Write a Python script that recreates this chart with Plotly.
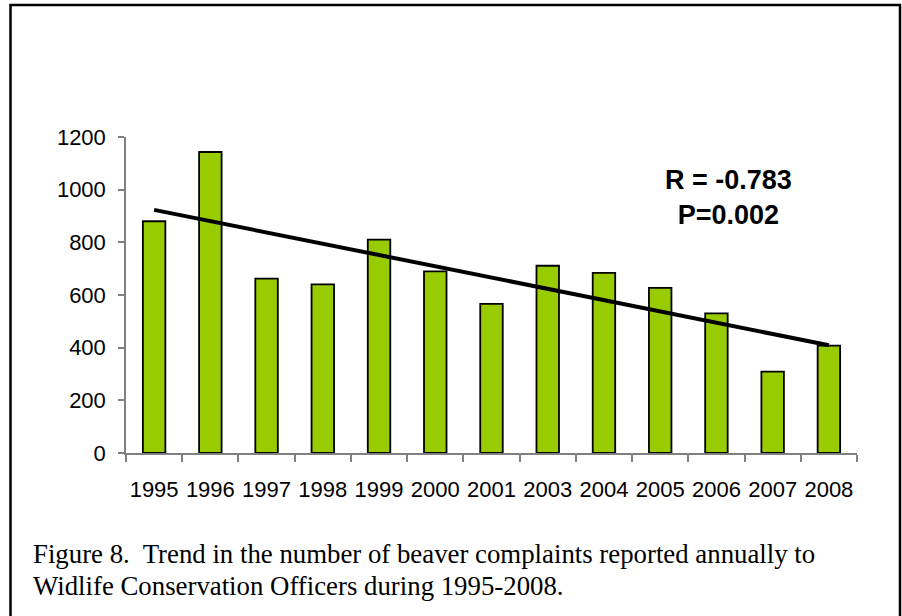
import numpy as np
import plotly.graph_objects as go

years = ["1995", "1996", "1997", "1998", "1999", "2000", "2001",
         "2003", "2004", "2005", "2006", "2007", "2008"]
complaints = [880, 1143, 662, 640, 810, 690, 566, 711, 684, 627, 530, 309, 408]
y_ticks = [0, 200, 400, 600, 800, 1000, 1200]
stats_text = "R = -0.783<br>P=0.002"
caption_line1 = "Figure 8.  Trend in the number of beaver complaints reported annually to"
caption_line2 = "Widlife Conservation Officers during 1995-2008."

# linear trendline (least squares), as in the spreadsheet chart
idx = np.arange(len(years))
slope, intercept = np.polyfit(idx, complaints, 1)
trend_y = [intercept + slope * idx[0], intercept + slope * idx[-1]]

W, H = 902, 616
L, R, T, B = 126, 45, 137, 163
pw, ph = W - L - R, H - T - B


def px_x(p):
    return (p - L) / pw


def px_y(p):
    return (H - B - p) / ph


fig = go.Figure()
fig.add_trace(go.Bar(
    x=years, y=complaints,
    marker=dict(color="#99CC00", line=dict(color="#000000", width=1.8)),
    showlegend=False, hoverinfo="x+y",
))
fig.add_trace(go.Scatter(
    x=[years[0], years[-1]], y=trend_y, mode="lines",
    line=dict(color="#000000", width=4), showlegend=False,
))

fig.update_layout(
    width=W, height=H,
    margin=dict(l=L, r=R, t=T, b=B),
    paper_bgcolor="white", plot_bgcolor="white",
    bargap=0.6,
    font=dict(family="Liberation Sans, Arial, sans-serif", color="#000000"),
)
fig.update_xaxes(
    type="category", tickson="boundaries", tickangle=0,
    showline=True, linecolor="#808080", linewidth=1.5,
    ticks="outside", ticklen=7, tickcolor="#808080", tickwidth=1.5,
    tickfont=dict(size=22, family="Liberation Sans, Arial, sans-serif"),
    ticklabelstandoff=16,
    showgrid=False, zeroline=False,
)
fig.update_yaxes(
    range=[0, 1200], tickvals=y_ticks,
    showline=True, linecolor="#808080", linewidth=1.5,
    ticks="outside", ticklen=6, tickcolor="#808080", tickwidth=1.5,
    tickfont=dict(size=22, family="Liberation Sans, Arial, sans-serif"),
    ticklabelstandoff=8,
    showgrid=False, zeroline=False,
)

fig.add_annotation(
    xref="paper", yref="paper", x=px_x(728.5), y=px_y(197.5),
    xanchor="center", yanchor="middle", showarrow=False,
    text="<b>" + stats_text.replace("<br>", "</b><br><b>") + "</b>",
    font=dict(size=27, family="Liberation Sans, Arial, sans-serif", color="#000000"),
    align="center",
)
fig.add_annotation(
    xref="paper", yref="paper", x=px_x(31), y=px_y(554),
    xanchor="left", yanchor="middle", showarrow=False,
    text=caption_line1,
    font=dict(size=26.8, family="Liberation Serif, Times New Roman, serif", color="#000000"),
)
fig.add_annotation(
    xref="paper", yref="paper", x=px_x(31), y=px_y(586),
    xanchor="left", yanchor="middle", showarrow=False,
    text=caption_line2,
    font=dict(size=26.8, family="Liberation Serif, Times New Roman, serif", color="#000000"),
)

# outer frame of the figure box
fig.add_shape(
    type="rect", xref="paper", yref="paper",
    x0=px_x(10.5), x1=px_x(900), y0=px_y(625), y1=px_y(5),
    line=dict(color="#000000", width=2.5), fillcolor="rgba(0,0,0,0)",
    layer="above",
)

fig.write_html("out.html", config={"displayModeBar": False},
               post_script="document.body.style.margin='0';")
